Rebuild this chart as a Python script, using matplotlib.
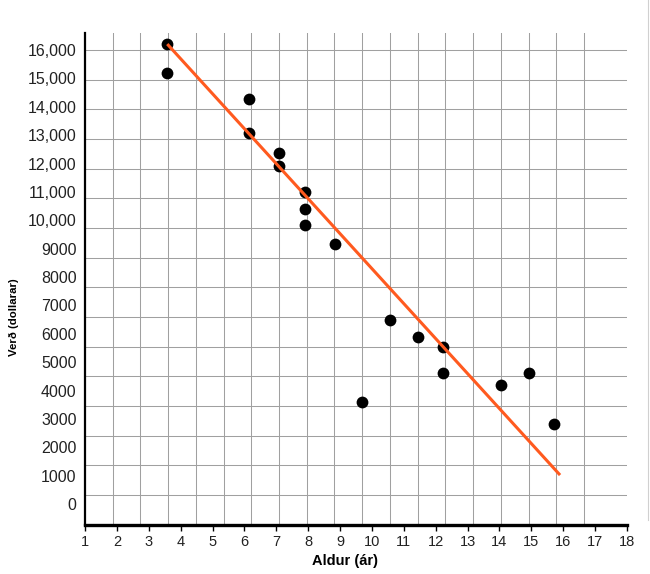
import numpy as np
import matplotlib
matplotlib.use("Agg")
import matplotlib.pyplot as plt
from matplotlib.lines import Line2D

plt.rcParams['font.family'] = ['Liberation Sans', 'DejaVu Sans']

# data
age = [3.58, 3.58, 6.15, 6.15, 7.09, 7.09, 7.90, 7.90, 7.90, 8.84,
       9.70, 10.57, 11.45, 12.23, 12.23, 14.05, 14.93, 15.71]
price = [16210, 15180, 14260, 13060, 12360, 11920, 10990, 10400, 9830, 9150,
         3580, 6490, 5870, 5520, 4630, 4190, 4630, 2820]
fit_age = [3.58, 15.90]
fit_price = [16210, 1020]

x_ticks = list(range(1, 19))
y_ticks = list(range(0, 17000, 1000))
y_labels = ["{:,}".format(v) if v >= 10000 else str(v) for v in y_ticks]

fig = plt.figure(figsize=(6.5, 5.74), dpi=100)
ax = fig.add_axes([85 / 650, 49 / 574, 542 / 650, 492 / 574])
ax.set_xlim(1, 18)
ax.set_ylim(-740, 16600)

# grid (the drawn grid does not line up with the tick labels in the original)
for gx in 1 + 0.8695 * np.arange(1, 19):
    ax.axvline(gx, color="#a0a0a0", lw=0.75, zorder=1)
for gy in 16000 - 1045.5 * np.arange(0, 16):
    ax.axhline(gy, color="#a0a0a0", lw=0.75, zorder=1)

ax.scatter(age, price, s=72, color="black", zorder=3, linewidths=0)
ax.plot(fit_age, fit_price, color="#ff5a1f", lw=2.2, zorder=4,
        solid_capstyle="butt")

ax.set_xticks(x_ticks)
ax.set_xticklabels([str(v) for v in x_ticks], fontsize=10.5, color="#222222")
ax.set_yticks(y_ticks)
ax.set_yticklabels(y_labels, fontsize=11.5, color="#222222")
ax.tick_params(axis="x", direction="out", length=4, width=1, pad=3)
ax.tick_params(axis="y", length=0, pad=6)

for s in ["top", "right"]:
    ax.spines[s].set_visible(False)
ax.spines["left"].set_linewidth(1.6)
ax.spines["bottom"].set_linewidth(2.4)
ax.spines["left"].set_zorder(5)
ax.spines["bottom"].set_zorder(5)

fig.text(345 / 650, 1 - 561 / 574, "Aldur (ár)", fontsize=10.5,
         fontweight="bold", ha="center", va="center")
fig.text(14 / 650, 1 - 317 / 574, "Verð (dollarar)", fontsize=8.2,
         fontweight="bold", ha="center", va="center", rotation=90)

# faint border line on the right edge
fig.add_artist(Line2D([648 / 650, 648 / 650], [1 - 520 / 574, 1.0],
                      color="#d0d0d0", lw=0.8, transform=fig.transFigure))

fig.savefig("out.png", dpi=100)
